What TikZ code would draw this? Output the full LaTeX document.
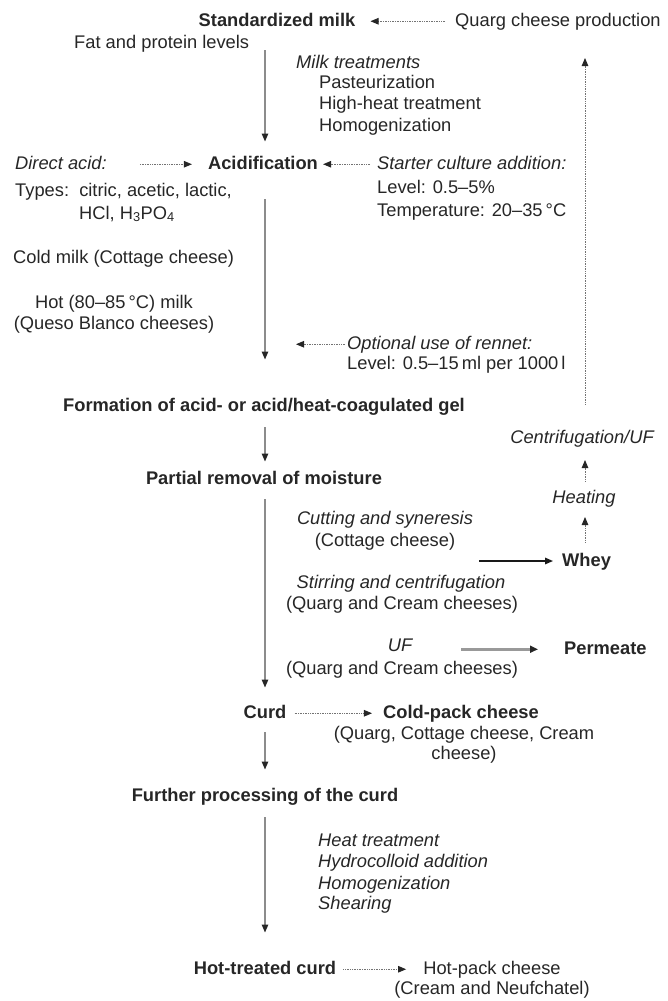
\documentclass[tikz,border=0pt]{standalone}
\usepackage{fontspec}
\setmainfont{Liberation Sans}
\usetikzlibrary{arrows.meta}
\tikzset{
  txt/.style = {inner sep=0pt, text height=13.3pt, text depth=3.8pt, text=black!85, font=\fontsize{18.3}{21.3}\selectfont},
  stage/.style = {txt, font=\fontsize{18.3}{21.3}\selectfont\bfseries},
  proc/.style = {txt, font=\fontsize{18.3}{21.3}\selectfont\itshape},
  flow/.style = {draw=black!45, line width=1.3pt, -{Triangle[length=8pt,width=6.5pt,color=black!85]}},
  dotflow/.style = {draw=black!55, line width=0.9pt, dash pattern=on 0.8pt off 0.9pt, -{Triangle[length=8pt,width=6.5pt,color=black!85]}},
  wheyflow/.style = {draw=black!90, line width=1.5pt, -{Triangle[length=8pt,width=6.5pt,color=black!90]}},
  permflow/.style = {draw=black!40, line width=2.8pt, -{Triangle[length=8pt,width=7pt,color=black!85]}},
}
\begin{document}
\begin{tikzpicture}[x=1pt, y=-1pt]
\useasboundingbox (0,0) rectangle (667,1001);
\coordinate (col) at (265,0);
\coordinate (rcol) at (585,0);
\node (milk) [stage, anchor=base] at (277,26) {Standardized milk};
\node (quarg) [txt, anchor=base west] at (455,26) {Quarg cheese production};
\node (fat) [txt, anchor=base west] at (74,48) {Fat and protein levels};
\node (mtreat) [proc, anchor=base west] at (296,68) {Milk treatments};
\node (past) [txt, anchor=base west] at (319,88) {Pasteurization};
\node (hht) [txt, anchor=base west] at (319,109) {High-heat treatment};
\node (homog) [txt, anchor=base west] at (319,131) {Homogenization};
\node (dacid) [proc, anchor=base west] at (15,169) {Direct acid:};
\node (acid) [stage, anchor=base] at (263,169) {Acidification};
\node (starter) [proc, anchor=base west] at (377,169) {Starter culture addition:};
\node (types) [txt, anchor=base west] at (15,196) {Types:\ \ citric, acetic, lactic,};
\node (hcl) [txt, anchor=base west] at (79,219) {HCl, H\textsubscript{3}PO\textsubscript{4}};
\node (slevel) [txt, anchor=base west] at (377,193) {Level: 0.5–5\%};
\node (stemp) [txt, anchor=base west] at (377,216) {Temperature: 20–35\,°C};
\node (cold) [txt, anchor=base west] at (13,263) {Cold milk (Cottage cheese)};
\node (hot) [txt, anchor=base] at (114,308) {Hot (80–85\,°C) milk};
\node (queso) [txt, anchor=base] at (114,329) {(Queso Blanco cheeses)};
\node (rennet) [proc, anchor=base west] at (347,349) {Optional use of rennet:};
\node (rlevel) [txt, anchor=base west] at (347,369) {Level: 0.5–15\,ml per 1000\,l};
\node (gel) [stage, anchor=base] at (264,411) {Formation of acid- or acid/heat-coagulated gel};
\node (centrif) [proc, anchor=base] at (582,443) {Centrifugation/UF};
\node (partial) [stage, anchor=base] at (264,484) {Partial removal of moisture};
\node (heating) [proc, anchor=base] at (584,503) {Heating};
\node (cutting) [proc, anchor=base] at (385,524) {Cutting and syneresis};
\node (cottage) [txt, anchor=base] at (385,546) {(Cottage cheese)};
\node (whey) [stage, anchor=base west] at (562,566) {Whey};
\node (stirring) [proc, anchor=base] at (401,588) {Stirring and centrifugation};
\node (qc1) [txt, anchor=base] at (402,609) {(Quarg and Cream cheeses)};
\node (uf) [proc, anchor=base] at (400,651) {UF};
\node (qc2) [txt, anchor=base] at (402,674) {(Quarg and Cream cheeses)};
\node (permeate) [stage, anchor=base west] at (564,654) {Permeate};
\node (curd) [stage, anchor=base] at (265,718) {Curd};
\node (coldpack) [stage, anchor=base] at (461,718) {Cold-pack cheese};
\node (cp1) [txt, anchor=base] at (464,739) {(Quarg, Cottage cheese, Cream};
\node (cp2) [txt, anchor=base] at (464,759) {cheese)};
\node (further) [stage, anchor=base] at (265,801) {Further processing of the curd};
\node (ht1) [proc, anchor=base west] at (318,846) {Heat treatment};
\node (ht2) [proc, anchor=base west] at (318,867) {Hydrocolloid addition};
\node (ht3) [proc, anchor=base west] at (318,889) {Homogenization};
\node (ht4) [proc, anchor=base west] at (318,909) {Shearing};
\node (hotcurd) [stage, anchor=base] at (265,974) {Hot-treated curd};
\node (hotpack) [txt, anchor=base] at (492,974) {Hot-pack cheese};
\node (neuf) [txt, anchor=base] at (492,994) {(Cream and Neufchatel)};
\coordinate (wsrc) at (479,561);
\draw [flow, shorten <=-2pt, shorten >=14pt] (col |- fat.south) -- (col |- acid.north);
\draw [flow, shorten <=26pt, shorten >=38pt] (col |- acid.south) -- (col |- gel.north);
\draw [flow, shorten <=12pt, shorten >=9pt] (col |- gel.south) -- (col |- partial.north);
\draw [flow, shorten <=11pt, shorten >=17pt] (col |- partial.south) -- (col |- curd.north);
\draw [flow, shorten <=10pt, shorten >=18pt] (col |- curd.south) -- (col |- further.north);
\draw [flow, shorten <=12pt, shorten >=28pt] (col |- further.south) -- (col |- hotcurd.north);
\draw [dotflow, shorten <=10pt, shorten >=15pt] (quarg.west) -- (quarg.west -| milk.east);
\draw [dotflow, shorten <=33pt, shorten >=16pt] (dacid.east) -- (dacid.east -| acid.west);
\draw [dotflow, shorten <=7pt, shorten >=5pt] (starter.west) -- (starter.west -| acid.east);
\draw [dotflow, shorten <=2pt, shorten >=31pt] (rennet.west) -- (rennet.west -| col);
\draw [dotflow, shorten <=8pt, shorten >=11pt] (curd.east) -- (curd.east -| coldpack.west);
\draw [dotflow, shorten <=7pt, shorten >=17pt] (hotcurd.east) -- (hotcurd.east -| hotpack.west);
\draw [wheyflow, shorten >=9pt] (wsrc) -- (wsrc -| whey.west);
\draw [permflow, shorten <=49pt, shorten >=26pt] (uf.east |- permeate.west) -- (permeate.west);
\draw [dotflow, shorten <=10pt, shorten >=10pt] (rcol |- whey.north) -- (rcol |- heating.south);
\draw [dotflow, shorten <=8pt, shorten >=13pt] (rcol |- heating.north) -- (rcol |- centrif.south);
\draw [dotflow, shorten <=25pt, shorten >=28pt] (rcol |- centrif.north) -- (rcol |- quarg.south);
\end{tikzpicture}
\end{document}
